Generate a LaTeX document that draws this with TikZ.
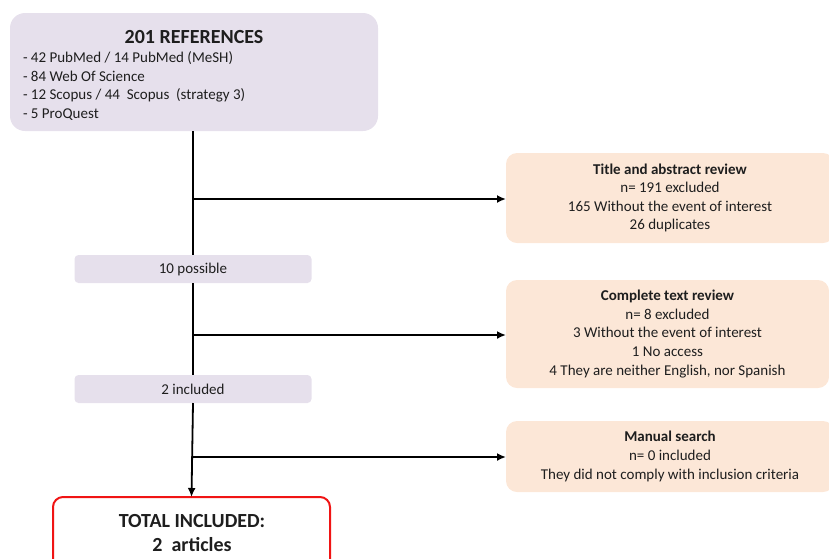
\documentclass[tikz,border=0pt]{standalone}
\usepackage{fontspec}
\setmainfont{Carlito}
\usetikzlibrary{arrows.meta}
\definecolor{lav}{RGB}{230,224,236}
\definecolor{peach}{RGB}{252,231,215}
\definecolor{txt}{RGB}{30,30,30}
\definecolor{redb}{RGB}{240,20,20}
\tikzset{
  x=1pt, y=-1pt,
  every node/.style={text=txt, inner sep=0pt, outer sep=0pt},
  lavbox/.style={fill=lav, rounded corners=#1},
  peachbox/.style={fill=peach, rounded corners=11pt, align=center,
    font={\fontsize{15}{18.6}\selectfont}},
  smalltxt/.style={font={\fontsize{15}{18.5}\selectfont}},
  mainline/.style={line width=2.6pt, black},
  thinline/.style={line width=1.8pt, black},
  arr/.style={thinline, -{Latex[length=9pt,width=8pt]}},
}
\begin{document}
\begin{tikzpicture}
\useasboundingbox (0,0) rectangle (829,558);
% top box
\node[lavbox=15pt, minimum width=368pt, minimum height=118pt] (top) at (194,72) {};
\node[font={\fontsize{20}{24}\selectfont\bfseries}] (toptitle) at (194,37) {201 REFERENCES};
\node[smalltxt, anchor=west, align=left] (toplist) at (23,86)
  {- 42 PubMed / 14 PubMed (MeSH)\\- 84 Web Of Science\\- 12 Scopus / 44\ \ Scopus\ \ (strategy 3)\\- 5 ProQuest};
% middle boxes
\node[lavbox=4pt, minimum width=237pt, minimum height=28pt, smalltxt] (p10) at (193,269) {10 possible};
\node[lavbox=4pt, minimum width=237pt, minimum height=28pt, smalltxt] (inc2) at (193,389) {2 included};
% total box
\node[draw=redb, line width=2pt, fill=white, rounded corners=10pt, minimum width=277pt, minimum height=74pt] (total) at (191.5,534) {};
\node[font={\fontsize{20}{24}\selectfont\bfseries}, align=center] (totaltxt) at (192,533) {TOTAL INCLUDED:\\2\ \ articles};
% right boxes
\node[peachbox, minimum width=328pt, minimum height=90pt] (r1) at (670,198)
  {\textbf{Title and abstract review}\\n= 191 excluded\\165 Without the event of interest\\26 duplicates};
\node[peachbox, minimum width=323pt, minimum height=108pt] (r2) at (667.5,334)
  {\textbf{Complete text review}\\n= 8 excluded\\3 Without the event of interest\\1 No access\\4 They are neither English, nor Spanish};
\node[peachbox, minimum width=328pt, minimum height=71pt] (r3) at (670,456.5)
  {\textbf{Manual search}\\n= 0 included\\They did not comply with inclusion criteria};
% junctions
\coordinate (j1) at (193,199);
\coordinate (j2) at (193,335);
\coordinate (j3) at (193,457);
% connectors
\draw[mainline] (top.south -| p10.north) -- (p10.north);
\draw[mainline] (p10.south) -- (inc2.north);
\draw[arr] (inc2.south) -- (total.north);
\draw[arr] (j1) -- (j1 -| r1.west);
\draw[arr] (j2) -- (j2 -| r2.west);
\draw[arr] (j3) -- (j3 -| r3.west);
\end{tikzpicture}
\end{document}
